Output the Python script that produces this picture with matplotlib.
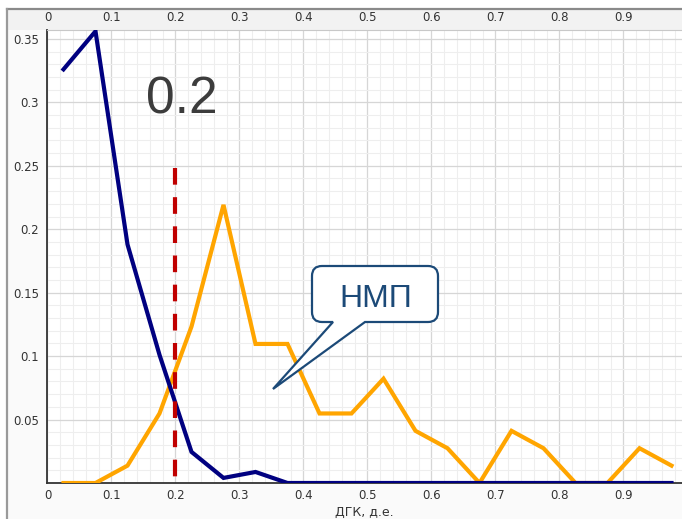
import matplotlib
matplotlib.use('Agg')
import matplotlib.pyplot as plt
import numpy as np
from matplotlib.path import Path
from matplotlib.patches import PathPatch, Rectangle
from matplotlib.lines import Line2D
from matplotlib.transforms import IdentityTransform

# bin centres (ДГК, д.е.)
x_bins = [0.025, 0.075, 0.125, 0.175, 0.225, 0.275, 0.325, 0.375, 0.425, 0.475,
          0.525, 0.575, 0.625, 0.675, 0.725, 0.775, 0.825, 0.875, 0.925, 0.975]
blue_vals = [0.326, 0.356, 0.188, 0.101, 0.0245, 0.004, 0.0087, 0, 0, 0,
             0, 0, 0, 0, 0, 0, 0, 0, 0, 0]
orange_counts = [0, 0, 1, 4, 9, 16, 8, 8, 4, 4, 6, 3, 2, 0, 3, 2, 0, 0, 2, 1]
orange_vals = [c / 73 for c in orange_counts]

cutoff = 0.2
cutoff_top = 0.248
x_ticks = [0, 0.1, 0.2, 0.3, 0.4, 0.5, 0.6, 0.7, 0.8, 0.9]
x_labels = ['0', '0.1', '0.2', '0.3', '0.4', '0.5', '0.6', '0.7', '0.8', '0.9']
y_ticks = [0.05, 0.1, 0.15, 0.2, 0.25, 0.3, 0.35]
y_labels = ['0.05', '0.1', '0.15', '0.2', '0.25', '0.3', '0.35']

W, H = 682, 519
fig = plt.figure(figsize=(W / 100, H / 100), dpi=100, facecolor='#fafafa')

# plot area in pixels
L, R, T, B = 47.5, 682, 30, 483
ax = fig.add_axes([L / W, 1 - B / H, (R - L) / W, (B - T) / H])
ax.set_xlim(0, (R - L) / 640)
ax.set_ylim(0, 0.357)

# frame decoration
fig.add_artist(Rectangle((0, 1 - 9 / H), 1, 9 / H, transform=fig.transFigure,
                         facecolor='white', edgecolor='none', zorder=0))
fig.add_artist(Rectangle((0, 0), 7 / W, 1, transform=fig.transFigure,
                         facecolor='white', edgecolor='none', zorder=0))
fig.add_artist(Rectangle((7 / W, 1 - T / H), 1, (T - 9) / H, transform=fig.transFigure,
                         facecolor='#f2f2f2', edgecolor='none', zorder=0))
fig.add_artist(Line2D([7 / W, 1], [1 - 9 / H, 1 - 9 / H], transform=fig.transFigure,
                      color='#8a8a8a', lw=1.6))
fig.add_artist(Line2D([7 / W, 7 / W], [0, 1 - 9 / H], transform=fig.transFigure,
                      color='#9a9a9a', lw=1.6))

# grid
ax.set_xticks(x_ticks)
ax.set_xticklabels(x_labels)
ax.set_yticks(y_ticks)
ax.set_yticklabels(y_labels)
ax.set_xticks(np.arange(0, 1.0, 0.02), minor=True)
ax.set_yticks(np.arange(0, 0.36, 0.01), minor=True)
ax.grid(which='minor', color='#eeeeee', lw=0.8)
ax.grid(which='major', color='#d6d6d6', lw=0.9)
ax.set_axisbelow(True)

ax.tick_params(which='both', length=0)
ax.tick_params(axis='x', labeltop=True, labelsize=8.5, colors='#333333', pad=4)
ax.tick_params(axis='y', labelsize=8.5, colors='#333333', pad=6)

for s in ['left', 'bottom']:
    ax.spines[s].set_color('#333333')
    ax.spines[s].set_linewidth(1.3)
ax.spines['top'].set_color('#c8c8c8')
ax.spines['top'].set_linewidth(0.8)
ax.spines['right'].set_visible(False)

ax.set_xlabel('ДГК, д.е.', fontsize=9, color='#333333', labelpad=3)

ax.plot(x_bins, orange_vals, color='#ffa500', lw=3, solid_joinstyle='miter', zorder=3)
ax.plot(x_bins, blue_vals, color='#000080', lw=3, solid_joinstyle='miter', zorder=4)
# drawn top-down so the dash pattern starts at the top
ax.plot([cutoff, cutoff], [cutoff_top, 0], color='#c00000', lw=3,
        dashes=(4.0, 3.0), dash_capstyle='butt', zorder=5)

ax.text(0.2105, 0.302, '0.2', fontsize=37, color='#3c3c3c',
        family='Liberation Sans', ha='center', va='center', zorder=6)

# callout НМП (pixel coordinates)
x0, x1, yb, yt, r = 312, 438, H - 322, H - 266, 10
verts = [(x0 + r, yt), (x1 - r, yt), (x1, yt), (x1, yt - r), (x1, yb + r),
         (x1, yb), (x1 - r, yb), (365, yb), (273, H - 389), (333, yb),
         (x0 + r, yb), (x0, yb), (x0, yb + r), (x0, yt - r), (x0, yt),
         (x0 + r, yt), (x0 + r, yt)]
codes = [Path.MOVETO, Path.LINETO, Path.CURVE3, Path.CURVE3, Path.LINETO,
         Path.CURVE3, Path.CURVE3, Path.LINETO, Path.LINETO, Path.LINETO,
         Path.LINETO, Path.CURVE3, Path.CURVE3, Path.LINETO, Path.CURVE3,
         Path.CURVE3, Path.CLOSEPOLY]
callout = PathPatch(Path(verts, codes), transform=IdentityTransform(),
                    facecolor='white', edgecolor='#1c4a78', lw=1.6,
                    joinstyle='miter', zorder=10)
fig.add_artist(callout)
fig.text(376 / W, 1 - 299 / H, 'НМП', fontsize=23, color='#1c4a78',
         family='Liberation Sans', ha='center', va='center', zorder=11)

fig.savefig('out.png', dpi=100, facecolor=fig.get_facecolor())
